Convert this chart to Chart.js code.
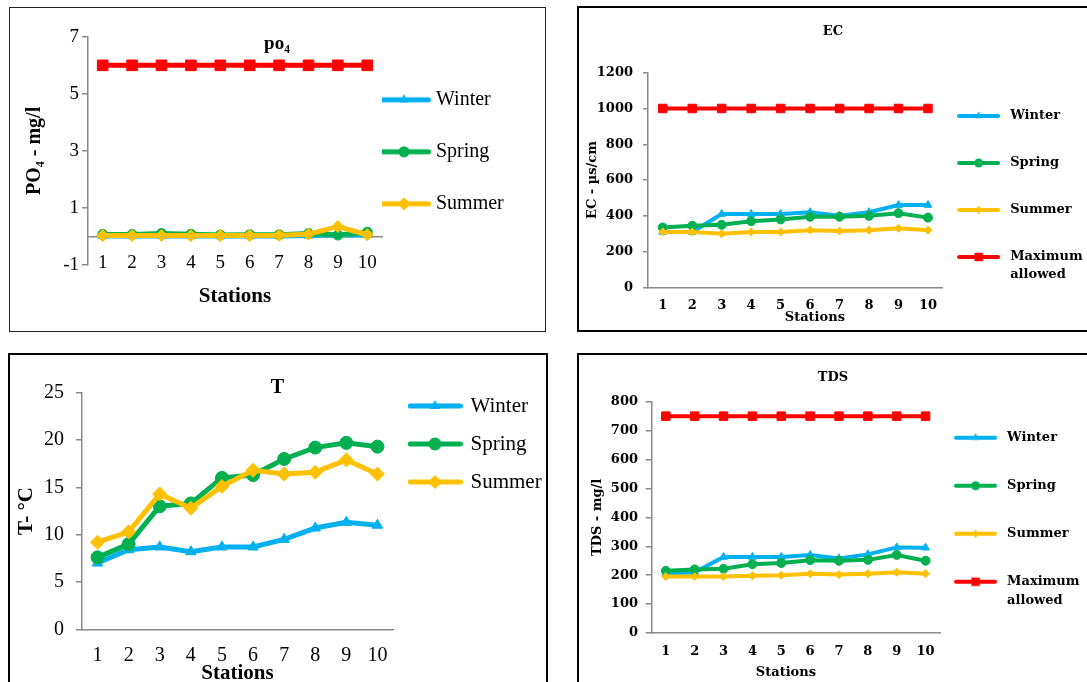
<!DOCTYPE html>
<html>
<head>
<meta charset="utf-8">
<script src="https://cdn.jsdelivr.net/npm/chart.js@4.4.1/dist/chart.umd.min.js"></script>
<style>
  body { margin: 0; background: #fff; width: 1087px; height: 682px; overflow: hidden; position: relative; }
  .box { position: absolute; box-sizing: border-box; border: 2px solid #000; }
  canvas { position: absolute; }
</style>
</head>
<body>
<div class="box" style="left:9px;top:7px;width:537px;height:325px;border-width:1px;border-color:#222"></div>
<div class="box" style="left:577px;top:6px;width:530px;height:326px"></div>
<div class="box" style="left:8px;top:353px;width:540px;height:340px"></div>
<div class="box" style="left:577px;top:353px;width:530px;height:340px"></div>

<canvas id="po4" width="534" height="322" style="left:10px;top:8px"></canvas>
<canvas id="ec" width="508" height="322" style="left:579px;top:8px"></canvas>
<canvas id="temp" width="535" height="326" style="left:10px;top:356px"></canvas>
<canvas id="tds" width="508" height="327" style="left:579px;top:355px"></canvas>

<script>
const stations = ['1', '2', '3', '4', '5', '6', '7', '8', '9', '10'];

const po4Winter = [0.02, 0.02, 0.02, 0.02, 0.02, 0.02, 0.02, 0.03, 0.05, 0.05];
const po4Spring = [0.07, 0.07, 0.1, 0.08, 0.05, 0.06, 0.06, 0.1, 0.05, 0.15];
const po4Summer = [0.03, 0.03, 0.03, 0.03, 0.03, 0.03, 0.04, 0.08, 0.35, 0.06];
const po4Max = [6, 6, 6, 6, 6, 6, 6, 6, 6, 6];

const ecWinter = [310, 310, 410, 410, 410, 420, 400, 420, 460, 460];
const ecSpring = [335, 345, 350, 370, 380, 395, 395, 400, 415, 390];
const ecSummer = [310, 310, 300, 310, 310, 320, 315, 320, 330, 320];
const ecMax = [1000, 1000, 1000, 1000, 1000, 1000, 1000, 1000, 1000, 1000];

const tWinter = [7.0, 8.4, 8.7, 8.2, 8.7, 8.7, 9.5, 10.7, 11.3, 11.0];
const tSpring = [7.6, 9.0, 13.0, 13.3, 16.0, 16.3, 18.0, 19.2, 19.7, 19.3];
const tSummer = [9.2, 10.3, 14.3, 12.8, 15.1, 16.8, 16.4, 16.6, 17.9, 16.4];

const tdsWinter = [205, 210, 263, 263, 263, 270, 258, 272, 296, 295];
const tdsSpring = [215, 220, 222, 238, 242, 252, 250, 253, 270, 250];
const tdsSummer = [195, 195, 195, 198, 200, 205, 202, 205, 210, 205];
const tdsMax = [750, 750, 750, 750, 750, 750, 750, 750, 750, 750];

const seasonNames = ['Winter', 'Spring', 'Summer', 'Maximum allowed'];
const legendLines = [['Winter'], ['Spring'], ['Summer'], ['Maximum', 'allowed']];

const AXIS = '#8a8a8a';
const COL = { winter: '#00B0F0', spring: '#00B050', summer: '#FFC000', max: '#FF0000' };
const FILL = '\u2003'.repeat(14); // invisible filler so the legend box takes its full maxWidth

Chart.defaults.color = '#000';
Chart.defaults.animation = false;

// small line + marker picture used as legend sample
function marker(g, style, x, y, r) {
    g.beginPath();
    if (style === 'circle') {
        g.arc(x, y, r, 0, Math.PI * 2);
    } else if (style === 'triangle') {
        g.moveTo(x, y - r);
        g.lineTo(x + r * 0.866, y + r * 0.5);
        g.lineTo(x - r * 0.866, y + r * 0.5);
        g.closePath();
    } else if (style === 'rectRot') {
        g.moveTo(x, y - r); g.lineTo(x + r, y); g.lineTo(x, y + r); g.lineTo(x - r, y);
        g.closePath();
    } else {
        const s = r * Math.SQRT1_2;
        g.rect(x - s, y - s, 2 * s, 2 * s);
    }
    g.fill();
}

function legendIcon(color, style, w, h, lw, r) {
    const c = document.createElement('canvas');
    c.width = w; c.height = h;
    const g = c.getContext('2d');
    g.strokeStyle = color; g.fillStyle = color; g.lineWidth = lw; g.lineCap = 'round';
    g.beginPath(); g.moveTo(lw / 2, h / 2); g.lineTo(w - lw / 2, h / 2); g.stroke();
    marker(g, style, w / 2, h / 2, r);
    return c;
}

function legendText(idx, multi) {
    if (!multi) return seasonNames[idx] + FILL;
    const lines = legendLines[idx].slice();
    if (lines.length < 2) lines.push(FILL);
    else lines[1] = lines[1] + FILL;
    return lines;
}

function buildPanel(id, p) {
    const n = p.series.length;
    const datasets = p.series.map((s, i) => ({
        label: seasonNames[s.idx],
        data: s.data,
        borderColor: s.color,
        backgroundColor: s.color,
        pointStyle: s.style,
        pointRadius: s.r,
        pointHoverRadius: s.r,
        pointBorderWidth: 1,
        borderWidth: p.lw,
        tension: 0,
        clip: false,
        order: n - i
    }));
    const icons = p.series.map(s => legendIcon(s.color, s.style, p.icon.w, p.icon.h, p.icon.lw, s.r * p.icon.k));

    new Chart(document.getElementById(id), {
        type: 'line',
        data: { labels: stations, datasets },
        options: {
            responsive: false,
            events: [],
            layout: { padding: { left: 0, top: 0, bottom: p.padBottom || 0, right: 0 } },
            plugins: {
                tooltip: { enabled: false },
                title: {
                    display: true, text: p.title.text, color: '#000',
                    font: { family: p.family, size: p.title.size, weight: 'bold' },
                    padding: { top: p.title.pt, bottom: p.title.pb }
                },
                legend: {
                    position: 'right', align: 'start',
                    maxWidth: p.legend.width,
                    title: { display: true, text: '', font: { size: 10, lineHeight: 1 }, padding: { top: p.legend.titleH - 10, bottom: 0 } },
                    labels: {
                        usePointStyle: true,
                        pointStyleWidth: p.legend.boxW,
                        padding: p.legend.pad,
                        color: '#000',
                        font: { family: p.family, size: p.legend.size, weight: p.weight, lineHeight: p.legend.lh },
                        generateLabels: chart => p.show.map(i => ({
                            text: legendText(p.series[i].idx, p.legend.lines),
                            pointStyle: icons[i],
                            datasetIndex: i,
                            hidden: false,
                            lineWidth: 0,
                            fontColor: '#000',
                            strokeStyle: p.series[i].color,
                            fillStyle: p.series[i].color
                        }))
                    }
                }
            },
            scales: {
                x: {
                    position: p.x.at !== undefined ? { y: p.x.at } : 'bottom',
                    offset: true,
                    grid: { drawOnChartArea: false, drawTicks: false, color: AXIS },
                    border: { display: true, color: AXIS, width: 1.5 },
                    ticks: { font: { family: p.family, size: p.x.size, weight: p.weight }, padding: p.x.pad, maxRotation: 0, autoSkip: false },
                    title: {
                        display: true, text: p.x.title || 'Stations', color: '#000',
                        font: { family: p.family, size: p.x.titleSize, weight: 'bold' },
                        padding: { top: 0, bottom: p.x.titlePb }
                    },
                    afterFit: s => { s.height = p.x.height; }
                },
                y: {
                    min: p.y.min, max: p.y.max,
                    grid: { drawOnChartArea: false, drawTicks: true, tickLength: p.y.tickLen, color: AXIS, lineWidth: 1.5 },
                    border: { display: true, color: AXIS, width: 1.5 },
                    ticks: {
                        stepSize: p.y.step,
                        font: { family: p.family, size: p.y.size, weight: p.weight },
                        padding: p.y.pad,
                        format: { useGrouping: false }
                    },
                    title: {
                        display: true, text: p.y.title, color: '#000',
                        font: { family: p.family, size: p.y.titleSize, weight: 'bold' },
                        padding: { top: p.y.titlePad, bottom: 0 }
                    },
                    afterFit: s => { s.width = p.y.width; }
                }
            }
        }
    });
}

buildPanel('po4', {
    series: [
        { idx: 0, data: po4Winter, color: COL.winter, style: 'triangle', r: 5 },
        { idx: 1, data: po4Spring, color: COL.spring, style: 'circle', r: 5 },
        { idx: 2, data: po4Summer, color: COL.summer, style: 'rectRot', r: 6 },
        { idx: 3, data: po4Max, color: COL.max, style: 'rect', r: 7.5 }
    ],
    show: [0, 1, 2],
    family: 'Liberation Serif', weight: 'normal', lw: 5,
    icon: { w: 54, h: 18, lw: 5, k: 1.1 },
    title: { text: 'po\u2084', size: 19, pt: 25, pb: -19 },
    y: { min: -1, max: 7, step: 2, width: 78, tickLen: 6, pad: 3, size: 19, title: 'PO\u2084 - mg/l', titleSize: 20, titlePad: 13 },
    x: { at: 0, height: 65, pad: 15, size: 19, titleSize: 21, titlePb: -7.5 },
    legend: { width: 162, size: 20, lh: 1.3, pad: 0, boxW: 44, titleH: 81.8, lines: true },
    padBottom: 65
});

buildPanel('ec', {
    series: [
        { idx: 0, data: ecWinter, color: COL.winter, style: 'triangle', r: 4.5 },
        { idx: 1, data: ecSpring, color: COL.spring, style: 'circle', r: 4.5 },
        { idx: 2, data: ecSummer, color: COL.summer, style: 'rectRot', r: 4 },
        { idx: 3, data: ecMax, color: COL.max, style: 'rect', r: 6 }
    ],
    show: [0, 1, 2, 3],
    family: 'DejaVu Serif', weight: 'bold', lw: 4,
    icon: { w: 43, h: 14, lw: 4, k: 1 },
    title: { text: 'EC', size: 13, pt: 16.2, pb: 32.9 },
    y: { min: 0, max: 1200, step: 200, width: 69, tickLen: 5, pad: 10, size: 13, title: 'EC - \u00b5s/cm', titleSize: 13, titlePad: 6 },
    x: { height: 42.6, pad: 10.3, size: 13, titleSize: 13, titlePb: 4.6, title: '\u2003\u2003\u2003Stations' },
    legend: { width: 144.3, size: 13, lh: 18 / 13, pad: 11, boxW: 50, titleH: 90.5, lines: true }
});

buildPanel('temp', {
    series: [
        { idx: 0, data: tWinter, color: COL.winter, style: 'triangle', r: 6 },
        { idx: 1, data: tSpring, color: COL.spring, style: 'circle', r: 6.5 },
        { idx: 2, data: tSummer, color: COL.summer, style: 'rectRot', r: 7 }
    ],
    show: [0, 1, 2],
    family: 'Liberation Serif', weight: 'normal', lw: 5,
    icon: { w: 55, h: 18, lw: 5, k: 1 },
    title: { text: 'T', size: 20, pt: 19.7, pb: -7 },
    y: { min: 0, max: 25, step: 5, width: 72, tickLen: 6, pad: 12, size: 20, title: 'T- \u00b0C', titleSize: 21, titlePad: 4 },
    x: { height: 52.7, pad: 14, size: 20, titleSize: 21, titlePb: -4 },
    legend: { width: 152, size: 21, lh: 1.2, pad: 17, boxW: 50, titleH: 22.5, lines: false }
});

buildPanel('tds', {
    series: [
        { idx: 0, data: tdsWinter, color: COL.winter, style: 'triangle', r: 4.5 },
        { idx: 1, data: tdsSpring, color: COL.spring, style: 'circle', r: 4.5 },
        { idx: 2, data: tdsSummer, color: COL.summer, style: 'rectRot', r: 4 },
        { idx: 3, data: tdsMax, color: COL.max, style: 'rect', r: 6 }
    ],
    show: [0, 1, 2, 3],
    family: 'DejaVu Serif', weight: 'bold', lw: 4,
    icon: { w: 43, h: 14, lw: 4, k: 1 },
    title: { text: 'TDS', size: 13, pt: 15.2, pb: 15.9 },
    y: { min: 0, max: 800, step: 100, width: 72.4, tickLen: 5.7, pad: 7.7, size: 13, title: 'TDS - mg/l', titleSize: 13, titlePad: 10.8 },
    x: { height: 49, pad: 10.9, size: 13, titleSize: 13, titlePb: 1.2, title: 'Stations\u2003\u2002' },
    legend: { width: 147, size: 13, lh: 18.7 / 13, pad: 10.6, boxW: 50, titleH: 65.6, lines: true }
});
</script>
</body>
</html>
